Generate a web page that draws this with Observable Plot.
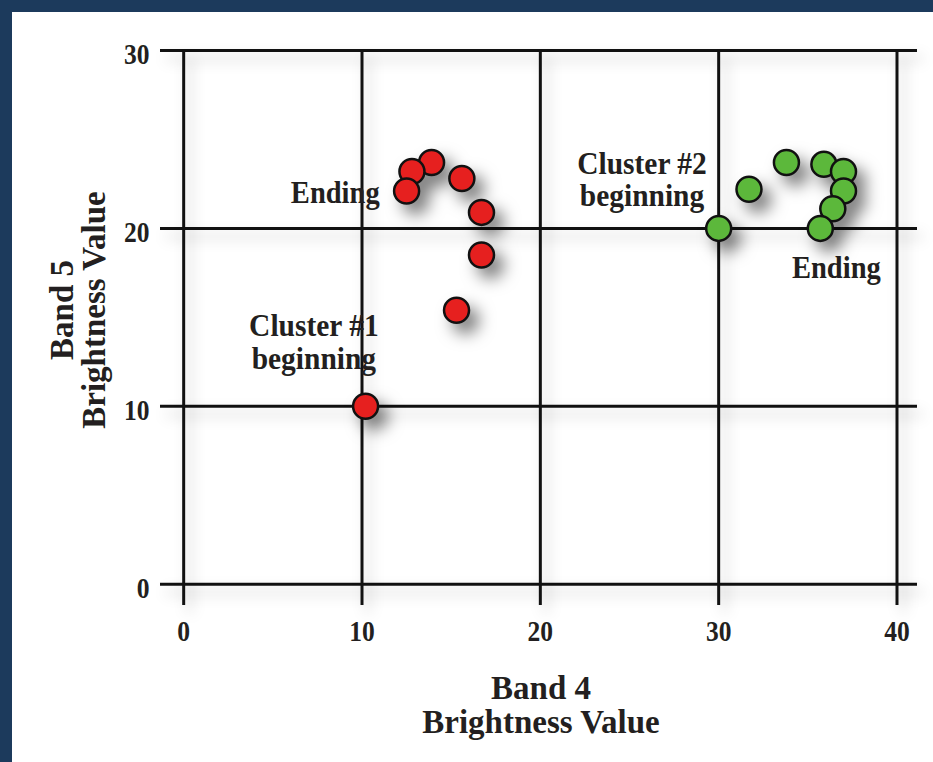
<!DOCTYPE html>
<html>
<head>
<meta charset="utf-8">
<script src="https://cdn.jsdelivr.net/npm/d3@7"></script>
<script src="https://cdn.jsdelivr.net/npm/@observablehq/plot@0.6"></script>
<style>
  html, body { margin: 0; padding: 0; background: #1c3a5c; width: 933px; height: 762px; overflow: hidden; }
  #panel { position: absolute; left: 12px; top: 12px; width: 921px; height: 750px; background: #fff; }
  #panel svg { display: block; }
  .grid { filter: drop-shadow(6px 8px 7px rgba(0,0,0,0.22)); }
  .dots { filter: drop-shadow(9px 10px 8px rgba(0,0,0,0.5)); }
</style>
</head>
<body>
<div id="panel"></div>
<script>
// Tick values
const xTicks = [0, 10, 20, 30, 40];
const yTicks = [0, 10, 20, 30];

// Cluster #1 (red) – Band 4 (x) and Band 5 (y) brightness values
const cluster1X = [10.2, 15.3, 16.7, 16.7, 15.6, 13.9, 12.8, 12.5];
const cluster1Y = [10.0, 15.4, 18.5, 20.9, 22.8, 23.7, 23.2, 22.1];

// Cluster #2 (green)
const cluster2X = [30.0, 31.7, 33.8, 35.9, 37.0, 37.0, 36.4, 35.7];
const cluster2Y = [20.0, 22.2, 23.7, 23.6, 23.2, 22.1, 21.1, 20.0];

// Annotations
const annText = ["Ending", "Cluster #1\nbeginning", "Cluster #2\nbeginning", "Ending"];
const annX    = [8.5, 7.3, 25.7, 36.6];
const annY    = [22.0, 13.6, 22.75, 17.8];
const annFit  = [0.92, 0.95, 0.95, 0.92];

// Axis titles
const xTitle = ["Band 4", "Brightness Value"];
const yTitle = ["Band 5", "Brightness Value"];

const pts1 = cluster1X.map((x, i) => ({x, y: cluster1Y[i]}));
const pts2 = cluster2X.map((x, i) => ({x, y: cluster2Y[i]}));
const ann = annText.map((t, i) => ({t, x: annX[i], y: annY[i]}));

const font = "'Liberation Serif', 'Times New Roman', serif";
const ink = "#231f20";

const annMarks = ann.map((a, i) =>
  Plot.text([a], {x: "x", y: "y", text: "t", lineHeight: 1.06, fontSize: 31, fontWeight: "bold", fill: ink, className: "ann" + i})
);

const chart = Plot.plot({
  width: 921,
  height: 750,
  marginLeft: 148,
  marginRight: 16,
  marginTop: 38,
  marginBottom: 157,
  x: {domain: [-1.3, 41.15]},
  y: {domain: [-1.2, 30]},
  style: {fontFamily: font, background: "transparent", overflow: "visible"},
  marks: [
    Plot.ruleY(yTicks, {stroke: "#111", strokeWidth: 3, className: "grid"}),
    Plot.ruleX(xTicks, {stroke: "#111", strokeWidth: 3, className: "grid"}),
    Plot.axisX(xTicks, {tickSize: 0, tickPadding: 14, fontSize: 30, fontWeight: "bold", fill: ink, label: null, className: "tick"}),
    Plot.axisY(yTicks, {tickSize: 0, tickPadding: 11, fontSize: 30, fontWeight: "bold", fill: ink, label: null, dy: 4, className: "tick"}),
    ...annMarks,
    Plot.dot(pts1, {x: "x", y: "y", r: 12.5, fill: "#e6201f", stroke: "#111", strokeWidth: 2.5, className: "dots"}),
    Plot.dot(pts2, {x: "x", y: "y", r: 12.5, fill: "#5cb83b", stroke: "#111", strokeWidth: 2.5, className: "dots"}),
    Plot.text([xTitle.join("\n")], {frameAnchor: "bottom", textAnchor: "middle", lineAnchor: "middle", text: d => d, dy: 100, dx: 2, lineHeight: 1.03, fontSize: 33, fontWeight: "bold", fill: ink}),
    Plot.text([yTitle.join("\n")], {frameAnchor: "left", textAnchor: "middle", lineAnchor: "middle", text: d => d, rotate: -90, dx: -82, dy: -18, lineHeight: 0.97, fontSize: 33, fontWeight: "bold", fill: ink})
  ]
});

document.getElementById("panel").appendChild(chart);

// The reference uses a narrow bold serif: condense tick and annotation glyphs
function condense(selector, k) {
  chart.querySelectorAll(selector).forEach(t => {
    const tsp = t.querySelectorAll("tspan");
    const targets = tsp.length ? Array.from(tsp) : [t];
    targets.forEach(el => {
      const L = el.getComputedTextLength();
      if (L > 0) {
        el.setAttribute("textLength", (L * k).toFixed(1));
        el.setAttribute("lengthAdjust", "spacingAndGlyphs");
      }
    });
  });
}
condense(".tick text", 0.85);
annFit.forEach((k, i) => condense(".ann" + i + " text", k));
</script>
</body>
</html>
